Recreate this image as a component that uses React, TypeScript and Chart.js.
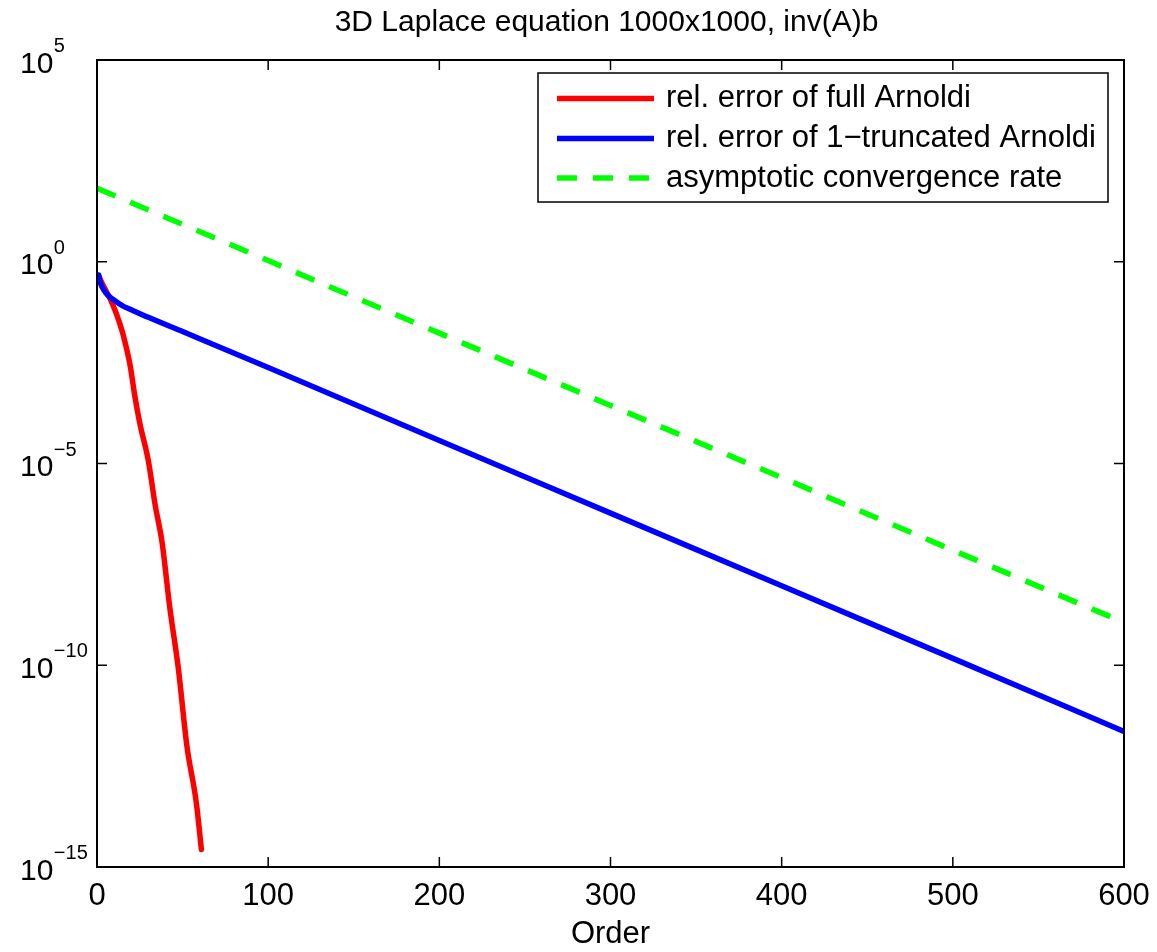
import React, { useEffect, useRef } from "react";
import { Chart, registerables } from "chart.js";

Chart.register(...registerables);

const TITLE = "3D Laplace equation 1000x1000, inv(A)b";
const X_LABEL = "Order";

const ORDER_FULL = [1, 4, 7.5, 11, 14.5, 17, 19.5, 22, 25, 30, 34, 38, 42.5, 47.5, 52.5, 58, 61];
const ERR_FULL = [0.447, 0.24, 0.126, 0.0562, 0.0204, 7.9e-3, 2.5e-3, 5.0e-4, 1.0e-4, 1.17e-5, 9.3e-7, 1.12e-7, 2.75e-9, 8.5e-11, 1.02e-12, 4.0e-14, 2.7e-15];

const ORDER_TRUNC = [1, 2, 4, 7, 10, 15, 20, 30, 50, 100, 200, 300, 400, 500, 600];
const ERR_TRUNC = [0.47, 0.30, 0.20, 0.14, 0.112, 0.081, 0.065, 0.042, 0.0186, 2.4e-3, 3.7e-5, 5.9e-7, 9.3e-9, 1.48e-10, 2.29e-12];

const ORDER_RATE = [0, 100, 200, 300, 400, 500, 600];
const RATE = [66.1, 1.07, 0.017, 2.75e-4, 4.47e-6, 7.08e-8, 1.15e-9];

const X_TICKS = [0, 100, 200, 300, 400, 500, 600];
const Y_TICK_EXP = [5, 0, -5, -10, -15];

const LABELS = [
  "rel. error of full Arnoldi",
  "rel. error of 1\u2212truncated Arnoldi",
  "asymptotic convergence rate",
];
const COLORS = ["#ff0000", "#0000ff", "#00ff00"];

const FONT = "'Liberation Sans', Arial, Helvetica, sans-serif";

const toPts = (xs: number[], ys: number[]) => xs.map((x, i) => ({ x, y: ys[i] }));

const overlay = {
  id: "overlay",
  afterDatasetsDraw(chart: any) {
    const { ctx } = chart;
    const bx = 538, by = 73, bw = 570, bh = 129;
    ctx.save();
    ctx.fillStyle = "#fff";
    ctx.fillRect(bx, by, bw, bh);
    ctx.strokeStyle = "#000";
    ctx.lineWidth = 1.5;
    ctx.strokeRect(bx, by, bw, bh);
    const rows = [98.5, 138.5, 178];
    chart.data.datasets.forEach((ds: any, i: number) => {
      ctx.beginPath();
      ctx.strokeStyle = ds.borderColor;
      ctx.lineWidth = 5.5;
      ctx.setLineDash(ds.borderDash || []);
      ctx.moveTo(557, rows[i]);
      ctx.lineTo(654, rows[i]);
      ctx.stroke();
      ctx.setLineDash([]);
      ctx.fillStyle = "#000";
      ctx.font = `31px ${FONT}`;
      ctx.textAlign = "left";
      ctx.textBaseline = "middle";
      ctx.fillText(ds.label, 666, rows[i]);
    });
    ctx.restore();
  },
  afterDraw(chart: any) {
    const { ctx, chartArea, scales } = chart;
    const { left, right, top, bottom } = chartArea;
    const x = scales.x, y = scales.y;
    ctx.save();
    ctx.strokeStyle = "#000";
    ctx.lineWidth = 2;
    ctx.strokeRect(left, top, right - left, bottom - top);
    ctx.lineWidth = 1.5;
    ctx.fillStyle = "#000";
    ctx.font = `31px ${FONT}`;
    ctx.textAlign = "center";
    ctx.textBaseline = "middle";
    X_TICKS.forEach((v) => {
      const px = x.getPixelForValue(v);
      ctx.beginPath();
      ctx.moveTo(px, bottom);
      ctx.lineTo(px, bottom - 10);
      ctx.moveTo(px, top);
      ctx.lineTo(px, top + 10);
      ctx.stroke();
      ctx.fillText(String(v), px, 896);
    });
    ctx.fillText(X_LABEL, (left + right) / 2, 934);
    Y_TICK_EXP.forEach((e) => {
      const py = y.getPixelForValue(Math.pow(10, e));
      ctx.beginPath();
      ctx.moveTo(left, py);
      ctx.lineTo(left + 10, py);
      ctx.moveTo(right, py);
      ctx.lineTo(right - 10, py);
      ctx.stroke();
      ctx.textAlign = "left";
      ctx.textBaseline = "alphabetic";
      ctx.font = `30px ${FONT}`;
      ctx.fillText("10", 20, py + 12.5);
      const w = ctx.measureText("10").width;
      ctx.font = `20px ${FONT}`;
      ctx.fillText(e < 0 ? "\u2212" + String(-e) : String(e), 20 + w + 0.5, py - 8);
    });
    ctx.font = `30px ${FONT}`;
    ctx.textAlign = "center";
    ctx.textBaseline = "alphabetic";
    ctx.fillText(TITLE, (left + right) / 2 - 4, 31);
    ctx.restore();
  },
};

export default function App() {
  const ref = useRef<HTMLCanvasElement | null>(null);
  useEffect(() => {
    document.body.style.margin = "0";
    const canvas = ref.current!;
    const chart = new Chart(canvas, {
      type: "line",
      data: {
        datasets: [
          {
            label: LABELS[0],
            data: toPts(ORDER_FULL, ERR_FULL),
            borderColor: COLORS[0],
            borderWidth: 5.5,
            pointRadius: 0,
            cubicInterpolationMode: "monotone",
            borderCapStyle: "round",
            fill: false,
            order: 2,
          },
          {
            label: LABELS[1],
            data: toPts(ORDER_TRUNC, ERR_TRUNC),
            borderColor: COLORS[1],
            borderWidth: 5.5,
            pointRadius: 0,
            cubicInterpolationMode: "monotone",
            borderCapStyle: "round",
            fill: false,
            order: 1,
          },
          {
            label: LABELS[2],
            data: toPts(ORDER_RATE, RATE),
            borderColor: COLORS[2],
            borderWidth: 5.5,
            pointRadius: 0,
            borderDash: [20, 16],
            borderCapStyle: "butt",
            fill: false,
            order: 0,
          },
        ],
      },
      options: {
        responsive: false,
        animation: false,
        devicePixelRatio: 1,
        layout: { padding: { top: 60, right: 33, left: 0, bottom: 0 } },
        plugins: { legend: { display: false }, title: { display: false }, tooltip: { enabled: false } },
        scales: {
          x: {
            type: "linear",
            min: 0,
            max: 600,
            grid: { display: false, drawTicks: false },
            border: { display: false },
            ticks: { display: false },
            afterFit: (s: any) => { s.height = 85; },
          },
          y: {
            type: "logarithmic",
            min: 1e-15,
            max: 1e5,
            grid: { display: false, drawTicks: false },
            border: { display: false },
            ticks: { display: false },
            afterFit: (s: any) => { s.width = 97; },
          },
        },
      },
      plugins: [overlay],
    } as any);
    return () => chart.destroy();
  }, []);
  return (
    <div style={{ width: 1157, height: 952, background: "#fff" }}>
      <canvas ref={ref} width={1157} height={952} style={{ display: "block" }} />
    </div>
  );
}
